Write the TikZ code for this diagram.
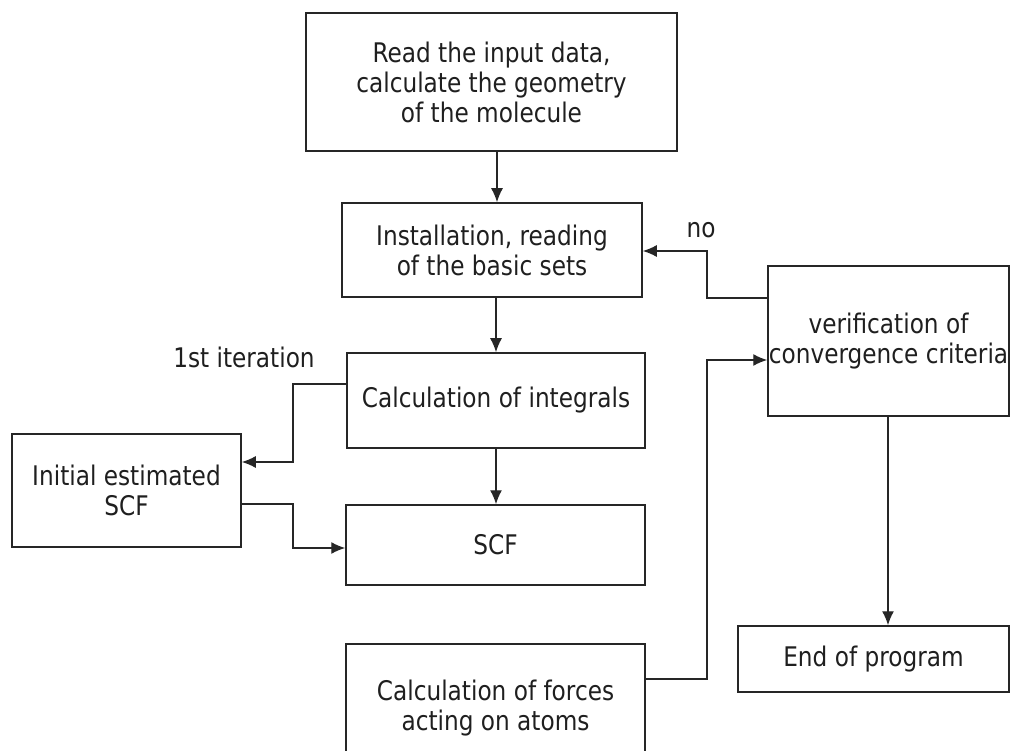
\documentclass[tikz,border=0pt]{standalone}
\usepackage{fontspec}
\setmainfont[FakeStretch=0.86]{DejaVu Sans}
\usetikzlibrary{arrows.meta}
\tikzset{
  blk/.style={draw=black!85,line width=1.5pt,align=center,inner sep=0pt,
    text=black!88,font=\fontsize{27}{30}\selectfont},
  flow/.style={draw=black!85,line width=1.4pt,-{Latex[length=14pt,width=12pt]}},
  lbl/.style={text=black!88,inner sep=0pt,font=\fontsize{27}{30}\selectfont}
}
\begin{document}
\begin{tikzpicture}[x=1pt,y=-1pt]
\useasboundingbox (0,0) rectangle (1010,751);
\node[blk,minimum width=371pt,minimum height=138pt] (read) at (491.5,82) {Read the input data,\\calculate the geometry\\of the molecule};
\node[blk,minimum width=300pt,minimum height=94pt] (setup) at (492,250) {Installation, reading\\of the basic sets};
\node[blk,minimum width=298pt,minimum height=95pt] (integ) at (496,400.5) {Calculation of integrals};
\node[blk,minimum width=299pt,minimum height=80pt] (scf) at (495.5,545) {SCF};
\node[blk,minimum width=229pt,minimum height=113pt] (init) at (126.5,490.5) {Initial estimated\\SCF};
\node[blk,minimum width=299pt,minimum height=128pt] (force) at (495.5,708) {Calculation of forces\\acting on atoms};
\node[blk,minimum width=241pt,minimum height=150pt] (ver) at (888.5,341) {verification of\\convergence criteria};
\node[blk,minimum width=271pt,minimum height=66pt] (fin) at (873.5,659) {End of program};
\node[lbl] (no) at (701,230) {no};
\node[lbl] (first) at (244,357) {1st iteration};
\coordinate (noBend) at (707,251);
\coordinate (itBend) at (293,462);
\coordinate (scfBend) at (293,548);
\coordinate (frcBend) at (707,360);
\draw[flow] ([xshift=5.5pt]read.south) -- ([xshift=5.5pt]read.south |- setup.north);
\draw[flow] (integ.north |- setup.south) -- (integ.north);
\draw[flow] (integ.south) -- (integ.south |- scf.north);
\draw[flow] ([xshift=-0.5pt]ver.south) -- ([xshift=-0.5pt]ver.south |- fin.north);
\draw[flow] ([yshift=43pt]ver.west) -| (noBend) -- (noBend -| setup.east);
\draw[flow] ([yshift=16.5pt]integ.west) -| (itBend) -- (itBend -| init.east);
\draw[flow] ([yshift=-13.5pt]init.east) -| (scfBend) -- (scfBend -| scf.west);
\draw[flow] ([yshift=29pt]force.east) -| (frcBend) -- (frcBend -| ver.west);
\end{tikzpicture}
\end{document}
